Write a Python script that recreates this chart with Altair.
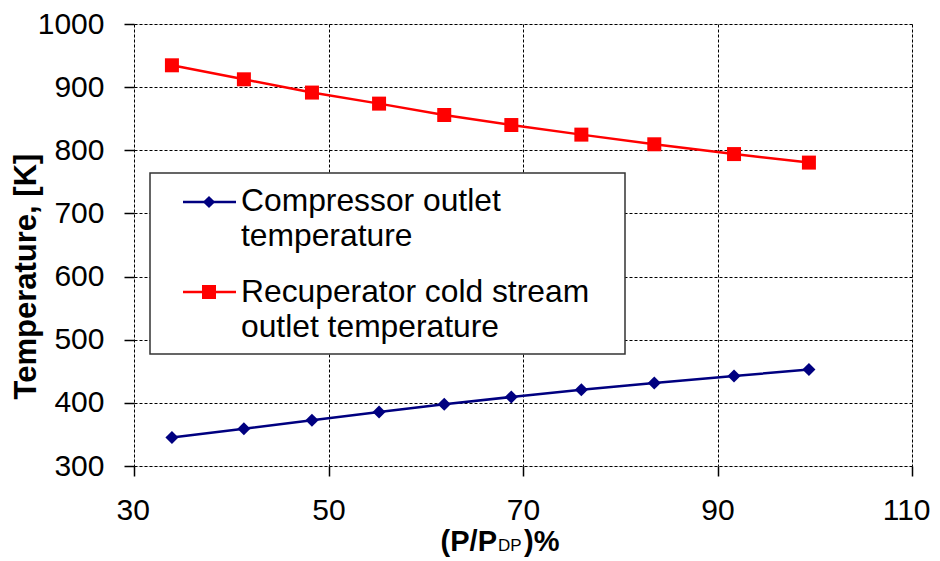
import altair as alt
import pandas as pd

# ---- data ----
load_pct = [33.9, 41.3, 48.3, 55.2, 61.9, 68.8, 76.0, 83.5, 91.7, 99.4]
compressor_T = [345.0, 359.0, 372.4, 385.5, 397.7, 409.3, 420.9, 431.4, 442.5, 452.7]
recuperator_T = [934.6, 912.4, 891.4, 873.9, 855.9, 840.0, 824.8, 809.5, 794.0, 780.5]
series = ["Compressor outlet temperature", "Recuperator cold stream outlet temperature"]
legend_lines = [["Compressor outlet", "temperature"], ["Recuperator cold stream", "outlet temperature"]]
x_ticks = [30, 50, 70, 90, 110]
y_ticks = [300, 400, 500, 600, 700, 800, 900, 1000]
colors = ["#000080", "#FF0000"]
shapes = ["diamond", "square"]
y_title = "Temperature, [K]"
x_title_parts = ["(P/P", "DP", ")%"]

FONT = "Liberation Sans"

df = pd.DataFrame({
    "x": load_pct * 2,
    "T": compressor_T + recuperator_T,
    "series": [series[0]] * len(load_pct) + [series[1]] * len(load_pct),
})

xs = alt.X("x:Q", scale=alt.Scale(domain=[30, 110], nice=False, zero=False),
           axis=alt.Axis(values=x_ticks, title=None, grid=True, gridDash=[3, 2],
                         gridColor="black", gridWidth=1, gridOpacity=1, format="d",
                         domain=False, ticks=True, tickSize=10, tickColor="black", tickWidth=1.5,
                         labelFontSize=30, labelFont=FONT, labelColor="black", labelPadding=19,
                         labelFlush=True, labelFlushOffset=18))
ys = alt.Y("T:Q", scale=alt.Scale(domain=[300, 1000], nice=False, zero=False),
           axis=alt.Axis(values=y_ticks, title=y_title, grid=True, gridDash=[3, 2],
                         gridColor="black", gridWidth=1, gridOpacity=1, format="d",
                         domain=False, ticks=True, tickSize=10, tickColor="black", tickWidth=1.5,
                         labelFontSize=30, labelFont=FONT, labelColor="black", labelPadding=20,
                         labelFlush=False,
                         titleFont=FONT, titleFontSize=31, titleFontWeight="bold", titleColor="black",
                         titleX=-99, titleY=252, titleAngle=270, titleAlign="center",
                         titleBaseline="alphabetic"))
color = alt.Color("series:N", scale=alt.Scale(domain=series, range=colors), legend=None)

lines = alt.Chart(df).mark_line(strokeWidth=2.5).encode(x=xs, y=ys, color=color)
points = alt.Chart(df).mark_point(filled=True, opacity=1).encode(
    x="x:Q", y="T:Q",
    fill=alt.Fill("series:N", scale=alt.Scale(domain=series, range=colors), legend=None),
    shape=alt.Shape("series:N", scale=alt.Scale(domain=series, range=shapes), legend=None),
    size=alt.Size("series:N", scale=alt.Scale(domain=series, range=[170, 196]), legend=None),
)

one = pd.DataFrame({"k": [0]})

# custom legend
legend_box = alt.Chart(one).mark_rect(fill="white", stroke="#333333", strokeWidth=1.5).encode(
    x=alt.value(16), x2=alt.value(491), y=alt.value(149), y2=alt.value(330))

legend_layers = [legend_box]
sym_y = [178, 268]
text_y = [187, 278]
for i in range(2):
    legend_layers.append(alt.Chart(one).mark_rule(color=colors[i], strokeWidth=2.5).encode(
        x=alt.value(49), x2=alt.value(102), y=alt.value(sym_y[i])))
    legend_layers.append(alt.Chart(one).mark_point(filled=True, opacity=1, color=colors[i],
                                                   shape=shapes[i], size=[150, 196][i]).encode(
        x=alt.value(75), y=alt.value(sym_y[i])))
    for j, line in enumerate(legend_lines[i]):
        legend_layers.append(alt.Chart(one).mark_text(
            text=line, align="left", baseline="alphabetic", font=FONT, fontSize=31.8,
            color="black").encode(x=alt.value(107), y=alt.value(text_y[i] + 35 * j)))

# x-axis title with subscript
title_y = 551 - 24
xt = [
    alt.Chart(one).mark_text(text=x_title_parts[0], align="right", baseline="alphabetic", font=FONT,
                             fontSize=29, fontWeight="bold", color="black").encode(
        x=alt.value(363), y=alt.value(title_y)),
    alt.Chart(one).mark_text(text=x_title_parts[1], align="left", baseline="alphabetic", font=FONT,
                             fontSize=17, fontWeight="normal", color="black").encode(
        x=alt.value(364), y=alt.value(title_y)),
    alt.Chart(one).mark_text(text=x_title_parts[2], align="left", baseline="alphabetic", font=FONT,
                             fontSize=29, fontWeight="bold", color="black").encode(
        x=alt.value(390), y=alt.value(title_y)),
]

chart = alt.layer(lines, points, *legend_layers, *xt).properties(
    width=778, height=442,
    padding={"left": 126, "top": 16, "right": 20, "bottom": 92},
    autosize=alt.AutoSizeParams(type="none"),
).configure_view(stroke="black", strokeWidth=3).configure(background="white")

chart.save("out.html", embed_options={"renderer": "svg", "actions": False})
